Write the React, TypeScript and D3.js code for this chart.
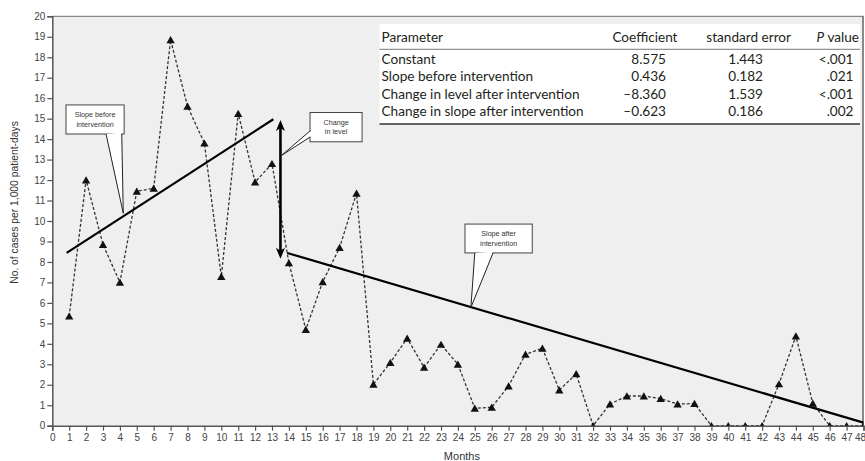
import React, { useRef, useEffect } from "react";
import * as d3 from "d3";

// monthly rates (cases per 1,000 patient-days), months 1..48
const months = d3.range(1, 49);
const rates = [
  5.35, 12.0, 8.85, 7.0, 11.45, 11.6, 18.85, 15.6, 13.8, 7.28, 15.25, 11.9, 12.8,
  7.95, 4.7, 7.03, 8.7, 11.35, 2.02, 3.08, 4.27, 2.85, 3.97, 3.0, 0.85, 0.9, 1.94,
  3.49, 3.78, 1.74, 2.53, 0, 1.06, 1.45, 1.45, 1.32, 1.06, 1.08, 0, 0, 0, 0, 2.04,
  4.38, 1.09, 0, 0, 0,
];

// fitted segments as drawn (month, rate)
const trendBefore = [[0.85, 8.44], [13.08, 14.97]];
const trendAfter = [[13.9, 8.44], [48, 0.15]];
const levelChange = { month: 13.5, from: 14.93, to: 8.15 };

const xTicks = d3.range(0, 49);
const yTicks = d3.range(0, 21);

// regression table
const tableHeader = ["Parameter", "Coefficient", "standard error", "P value"];
const tableParams = [
  "Constant",
  "Slope before intervention",
  "Change in level after intervention",
  "Change in slope after intervention",
];
const tableCoef = ["8.575", "0.436", "\u20138.360", "\u20130.623"];
const tableSE = ["1.443", "0.182", "1.539", "0.186"];
const tableP = ["<.001", ".021", "<.001", ".002"];

const W = 865;
const H = 461;

const Chart = () => {
  const svgRef = useRef(null);

  useEffect(() => {
    document.body.style.margin = "0";
    const svg = d3.select(svgRef.current);
    svg.selectAll("*").remove();

    const margin = { top: 16.3, right: 1.5, bottom: 35.3, left: 52.3 };
    const x = d3.scaleLinear().domain([0, 48]).range([margin.left, W - margin.right]);
    const y = d3.scaleLinear().domain([0, 20]).range([H - margin.bottom, margin.top]);
    const axisFont = "'Liberation Sans', Arial, sans-serif";

    svg.append("rect").attr("width", W).attr("height", H).attr("fill", "#fff");

    // plot background
    svg.append("rect")
      .attr("x", x(0)).attr("y", y(20))
      .attr("width", x(48) - x(0)).attr("height", y(0) - y(20))
      .attr("fill", "#efefef");
    svg.append("line")
      .attr("x1", x(0)).attr("x2", x(48)).attr("y1", y(20)).attr("y2", y(20))
      .attr("stroke", "#888").attr("stroke-width", 1.2);
    svg.append("line")
      .attr("x1", x(48) - 0.5).attr("x2", x(48) - 0.5).attr("y1", y(20)).attr("y2", y(0))
      .attr("stroke", "#666").attr("stroke-width", 1.5);

    svg.append("defs").append("clipPath").attr("id", "plotclip")
      .append("rect")
      .attr("x", x(0)).attr("y", y(20))
      .attr("width", x(48) - x(0)).attr("height", y(0) - y(20));

    // axes
    const yAxis = svg.append("g")
      .attr("transform", `translate(${x(0)},0)`)
      .call(d3.axisLeft(y).tickValues(yTicks).tickSize(5).tickPadding(2).tickFormat(d3.format("d")));
    const xAxis = svg.append("g")
      .attr("transform", `translate(0,${y(0)})`)
      .call(d3.axisBottom(x).tickValues(xTicks).tickSize(5).tickPadding(3).tickFormat(d3.format("d")));
    [yAxis, xAxis].forEach((g) => {
      g.select(".domain").attr("stroke", "#555").attr("stroke-width", 1.5);
      g.selectAll(".tick line").attr("stroke", "#555").attr("stroke-width", 1.2);
      g.selectAll(".tick text")
        .attr("fill", "#444")
        .style("font-family", axisFont)
        .style("font-size", "10px");
    });
    // last month label sits at the window edge: keep it inside
    xAxis.selectAll(".tick text").filter((d) => d === 48)
      .attr("text-anchor", "end").attr("dx", "0.2em");

    svg.append("text")
      .attr("transform", `translate(18,202.5) rotate(-90)`)
      .attr("text-anchor", "middle")
      .attr("fill", "#333")
      .style("font-family", axisFont)
      .style("font-size", "10.3px")
      .text("No. of cases per 1,000 patient-days");
    svg.append("text")
      .attr("x", (x(0) + x(48)) / 2 + 4)
      .attr("y", H - 1.5)
      .attr("text-anchor", "middle")
      .attr("fill", "#333")
      .style("font-family", axisFont)
      .style("font-size", "11px")
      .text("Months");

    const plot = svg.append("g").attr("clip-path", "url(#plotclip)");

    // observed series
    const line = d3.line().x((d, i) => x(months[i])).y((d) => y(d));
    plot.append("path")
      .datum(rates)
      .attr("fill", "none")
      .attr("stroke", "#333")
      .attr("stroke-width", 1.3)
      .attr("stroke-dasharray", "3,2")
      .attr("d", line);

    // fitted segments
    const seg = d3.line().x((d) => x(d[0])).y((d) => y(d[1]));
    [trendBefore, trendAfter].forEach((t) => {
      plot.append("path")
        .datum(t)
        .attr("fill", "none")
        .attr("stroke", "#000")
        .attr("stroke-width", 2.2)
        .attr("d", seg);
    });

    plot.selectAll(".pt")
      .data(rates)
      .enter()
      .append("path")
      .attr("transform", (d, i) => `translate(${x(months[i])},${y(d) + 1})`)
      .attr("d", d3.symbol(d3.symbolTriangle, 30))
      .attr("fill", "#111");

    // change in level arrow
    const ax = x(levelChange.month);
    const yTop = y(levelChange.from);
    const yBot = y(levelChange.to);
    svg.append("line")
      .attr("x1", ax).attr("x2", ax).attr("y1", yTop + 6).attr("y2", yBot - 6)
      .attr("stroke", "#000").attr("stroke-width", 2.6);
    svg.append("path")
      .attr("d", `M${ax},${yTop} L${ax + 4.5},${yTop + 11} L${ax},${yTop + 8} L${ax - 4.5},${yTop + 11} Z`)
      .attr("fill", "#000");
    svg.append("path")
      .attr("d", `M${ax},${yBot} L${ax + 4.5},${yBot - 11} L${ax},${yBot - 8} L${ax - 4.5},${yBot - 11} Z`)
      .attr("fill", "#000");

    // callouts (box in data units, wedge base on one edge, tip on the mark)
    const callouts = [
      { lines: ["Slope before", "intervention"], box: [0.81, 15.67, 4.25, 14.25], side: "bottom", base: [3.18, 4.11], tip: [4.2, 10.38] },
      { lines: ["Change", "in level"], box: [15.25, 15.3, 18.33, 13.87], side: "left", base: [14.4, 14.1], tip: [13.56, 13.2] },
      { lines: ["Slope after", "intervention"], box: [24.42, 9.85, 28.4, 8.44], side: "bottom", base: [25.0, 26.08], tip: [24.77, 5.78] },
    ];
    callouts.forEach((c) => {
      const bx0 = x(c.box[0]), by0 = y(c.box[1]), bx1 = x(c.box[2]), by1 = y(c.box[3]);
      const g = svg.append("g");
      g.append("rect")
        .attr("x", bx0).attr("y", by0).attr("width", bx1 - bx0).attr("height", by1 - by0)
        .attr("fill", "#fff").attr("stroke", "#444").attr("stroke-width", 1);
      let p1, p2;
      if (c.side === "bottom") {
        p1 = [x(c.base[0]), by1];
        p2 = [x(c.base[1]), by1];
      } else {
        p1 = [bx0, y(c.base[0])];
        p2 = [bx0, y(c.base[1])];
      }
      const tip = [x(c.tip[0]), y(c.tip[1])];
      g.append("path")
        .attr("d", `M${p1[0]},${p1[1]} L${tip[0]},${tip[1]} L${p2[0]},${p2[1]} Z`)
        .attr("fill", "#fff");
      g.append("path")
        .attr("d", c.side === "bottom"
          ? `M${p1[0] + 0.6},${p1[1] - 1} L${p2[0] - 0.6},${p2[1] - 1} L${p2[0] - 0.6},${p2[1] + 0.6} Z`
          : `M${p1[0] + 1},${p1[1] + 0.6} L${p2[0] + 1},${p2[1] - 0.6} L${p2[0] - 0.6},${p2[1] - 0.6} L${p1[0] - 0.6},${p1[1] + 0.6} Z`)
        .attr("fill", "#fff");
      g.append("path")
        .attr("d", `M${p1[0]},${p1[1]} L${tip[0]},${tip[1]} L${p2[0]},${p2[1]}`)
        .attr("fill", "none").attr("stroke", "#222").attr("stroke-width", 1);
      const cx = (bx0 + bx1) / 2;
      const cy = (by0 + by1) / 2;
      c.lines.forEach((t, i) => {
        g.append("text")
          .attr("x", cx).attr("y", cy + (i - 0.5) * 9.5 + 2.5)
          .attr("text-anchor", "middle")
          .attr("fill", "#333")
          .style("font-family", axisFont)
          .style("font-size", "7.2px")
          .text(t);
      });
    });

    // regression table
    const tbl = svg.append("g");
    const tFont = "Lato, 'Open Sans', sans-serif";
    const tLeft = 379.5, tRight = 860, tTop = 24, tHead = 49.3, tBottom = 124;
    tbl.append("rect")
      .attr("x", tLeft).attr("y", tTop).attr("width", tRight - tLeft).attr("height", tBottom - tTop)
      .attr("fill", "#fff");
    tbl.append("line").attr("x1", tLeft).attr("x2", tRight).attr("y1", tHead).attr("y2", tHead)
      .attr("stroke", "#777").attr("stroke-width", 1);
    tbl.append("line").attr("x1", tLeft).attr("x2", tRight).attr("y1", tBottom).attr("y2", tBottom)
      .attr("stroke", "#333").attr("stroke-width", 1.5);

    const headRight = [null, 677.5, 791, 859];
    const valRight = [null, 666, 763, 853.5];
    const txt = (sel) => sel.attr("fill", "#231f20").style("font-family", tFont).style("font-size", "13.6px");

    txt(tbl.append("text").attr("x", 381.5).attr("y", 42).text(tableHeader[0]));
    txt(tbl.append("text").attr("x", headRight[1]).attr("y", 42).attr("text-anchor", "end").text(tableHeader[1]));
    txt(tbl.append("text").attr("x", headRight[2]).attr("y", 42).attr("text-anchor", "end").text(tableHeader[2]));
    const pv = txt(tbl.append("text").attr("x", headRight[3]).attr("y", 42).attr("text-anchor", "end"));
    pv.append("tspan").style("font-style", "italic").text(tableHeader[3].split(" ")[0]);
    pv.append("tspan").text(" " + tableHeader[3].split(" ")[1]);

    tableParams.forEach((p, i) => {
      const yy = 64 + i * 17.3;
      txt(tbl.append("text").attr("x", 381.5).attr("y", yy).text(p));
      txt(tbl.append("text").attr("x", valRight[1]).attr("y", yy).attr("text-anchor", "end").text(tableCoef[i]));
      txt(tbl.append("text").attr("x", valRight[2]).attr("y", yy).attr("text-anchor", "end").text(tableSE[i]));
      txt(tbl.append("text").attr("x", valRight[3]).attr("y", yy).attr("text-anchor", "end").text(tableP[i]));
    });
  }, []);

  return <svg ref={svgRef} width={W} height={H} style={{ display: "block" }}></svg>;
};

export default function App() {
  return <Chart />;
}
